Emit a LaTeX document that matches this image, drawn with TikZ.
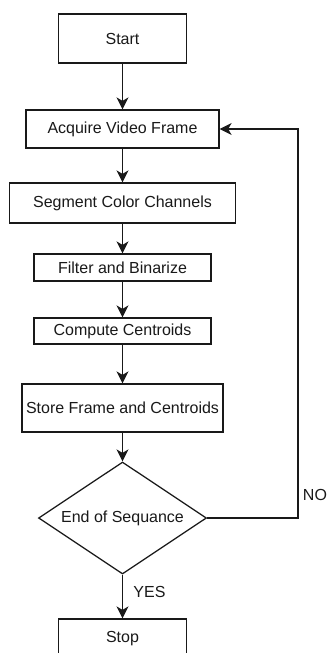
\documentclass[tikz,border=0pt]{standalone}
\usepackage{fontspec}
\setmainfont{Liberation Sans}
\usetikzlibrary{shapes.geometric,arrows.meta}
\definecolor{linec}{RGB}{25,25,25}
\begin{document}
\begin{tikzpicture}[x=1pt,y=1pt,
  every node/.style={font=\fontsize{16}{19}\selectfont, text=linec},
  stepbox/.style={draw=linec, line width=1.25pt, rectangle, inner sep=0pt, fill=white},
  decbox/.style={draw=linec, line width=1.25pt, diamond, inner sep=0pt, aspect=1.5},
  conn/.style={draw=linec, line width=1.25pt, -{Stealth[length=12pt,width=12pt,inset=3.5pt]}}
]
\useasboundingbox (0,0) rectangle (327,-653);
\clip (0,0) rectangle (327,-653);
\node[stepbox, minimum width=128, minimum height=49] (start) at (122.5,-38.5) {Start};
\node[stepbox, minimum width=193, minimum height=38] (acq) at (122.5,-129) {Acquire Video Frame};
\node[stepbox, minimum width=226, minimum height=40] (seg) at (122.5,-203) {Segment Color Channels};
\node[stepbox, minimum width=177, minimum height=27] (fil) at (122.5,-267.5) {Filter and Binarize};
\node[stepbox, minimum width=177, minimum height=26] (cmp) at (122.5,-331) {Compute Centroids};
\node[stepbox, minimum width=201, minimum height=48] (sto) at (122.5,-408) {Store Frame and Centroids};
\node[decbox, minimum width=168, minimum height=112] (dec) at (122.5,-518) {End of Sequance};
\node[stepbox, minimum width=128, minimum height=40] (stop) at (122.5,-639) {Stop};
\coordinate (c1) at (298,-518);
\coordinate (c2) at (298,-129);
\draw[conn] (start) -- (acq);
\draw[conn] (acq) -- (seg);
\draw[conn] (seg) -- (fil);
\draw[conn] (fil) -- (cmp);
\draw[conn] (cmp) -- (sto);
\draw[conn] (sto) -- (dec);
\draw[conn] (dec) -- node[right=7pt, pos=0.4] (yes) {YES} (stop);
\draw[conn] (dec.east) -- (c1) -- node[right=1pt, pos=0.06, anchor=west] (no) {NO} (c2) -- (acq.east);
\end{tikzpicture}
\end{document}
